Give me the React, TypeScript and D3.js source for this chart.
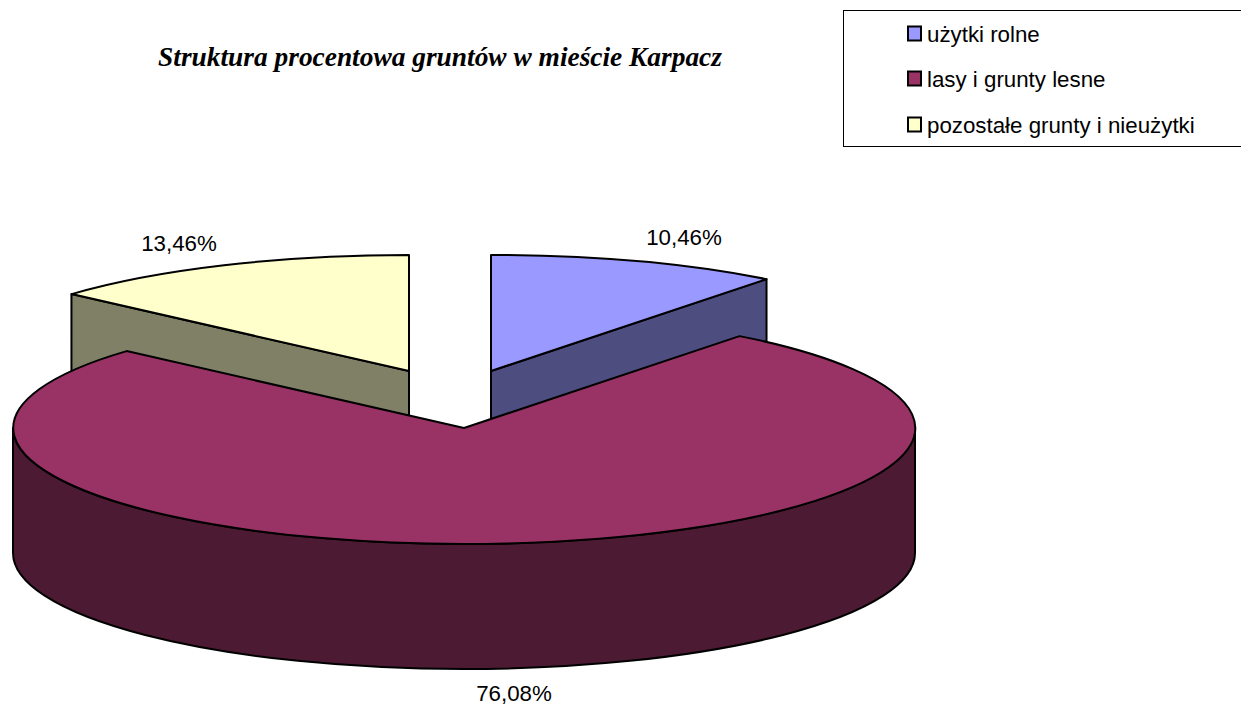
import React from "react";
import * as d3 from "d3";

const categories = ["użytki rolne", "lasy i grunty lesne", "pozostałe grunty i nieużytki"];
const shares = [10.46, 76.08, 13.46];
const shareLabels = ["10,46%", "76,08%", "13,46%"];
const topColors = ["#9999FF", "#993366", "#FFFFCC"];
const sideColors = ["#4D4D80", "#4D1A33", "#808066"];
const title = "Struktura procentowa gruntów w mieście Karpacz";

const W = 1241, H = 706;
const cx = 464, cy = 428, rx = 451, ry = 116, depth = 125;
const offsets = [[27, -57], [0, 0], [-55, -57]];
const labelPos = [[684, 245], [514, 701], [179, 251]];
const legendY = [33.5, 78.5, 124.5];

const arcs = d3.pie<number>().sort(null).value((d) => d)(shares);
const unitArc = d3.arc<any>().innerRadius(0).outerRadius(1);
const pt = (a: number, c: number[]) => [c[0] + rx * Math.sin(a), c[1] - ry * Math.cos(a)];
const line = d3.line();

export default function App() {
  return (
    <svg width={W} height={H} viewBox={`0 0 ${W} ${H}`} style={{ position: "absolute", left: 0, top: 0, background: "#fff" }}>
      <text x={440} y={66} textAnchor="middle" fontFamily="Liberation Serif" fontWeight="bold" fontStyle="italic" fontSize={27.4} fill="#000">{title}</text>

      <rect x={843.5} y={10.5} width={420} height={136} fill="#fff" stroke="#000" strokeWidth={1} />
      {categories.map((c, i) => (
        <g key={c}>
          <rect x={908} y={legendY[i] - 7} width={13} height={14} fill={topColors[i]} stroke="#000" strokeWidth={2} />
          <text x={927} y={legendY[i] + 8} fontFamily="Liberation Sans" fontSize={22.3} fill="#000">{c}</text>
        </g>
      ))}

      {/* exploded slices: radial walls first, then tops */}
      {[0, 2].map((i) => {
        const a = arcs[i];
        const c = [cx + offsets[i][0], cy + offsets[i][1]];
        const edge = i === 0 ? a.endAngle : a.startAngle;
        const p = pt(edge, c);
        const wall = line([
          [c[0], c[1]],
          [p[0], p[1]],
          [p[0], p[1] + depth],
          [c[0], c[1] + depth],
        ] as [number, number][]) + "Z";
        return (
          <g key={i}>
            <path d={wall} fill={sideColors[i]} stroke="#000" strokeWidth={2} strokeLinejoin="round" />
            <path d={unitArc(a) as string} transform={`translate(${c[0]},${c[1]}) scale(${rx},${ry})`} fill={topColors[i]} stroke="#000" strokeWidth={2} strokeLinejoin="round" vectorEffect="non-scaling-stroke" />
          </g>
        );
      })}

      {/* main slice: outer wall, then top */}
      <path
        d={`M${cx - rx},${cy}A${rx},${ry} 0 0 0 ${cx + rx},${cy}L${cx + rx},${cy + depth}A${rx},${ry} 0 0 1 ${cx - rx},${cy + depth}Z`}
        fill={sideColors[1]} stroke="#000" strokeWidth={2} strokeLinejoin="round"
      />
      <path d={unitArc(arcs[1]) as string} transform={`translate(${cx},${cy}) scale(${rx},${ry})`} fill={topColors[1]} stroke="#000" strokeWidth={2} strokeLinejoin="round" vectorEffect="non-scaling-stroke" />

      {shareLabels.map((s, i) => (
        <text key={s} x={labelPos[i][0]} y={labelPos[i][1]} textAnchor="middle" fontFamily="Liberation Sans" fontSize={22.3} fill="#000">{s}</text>
      ))}
    </svg>
  );
}
